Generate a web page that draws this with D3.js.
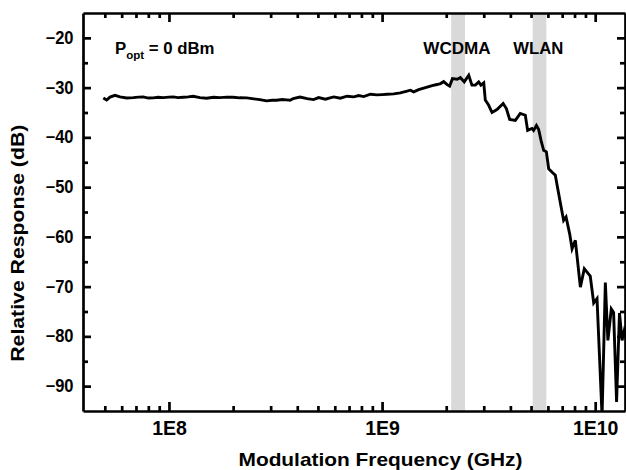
<!DOCTYPE html>
<html><head><meta charset="utf-8">
<script src="https://cdn.jsdelivr.net/npm/d3@7"></script>
<style>body{margin:0;background:#fff} svg{display:block}</style>
</head><body><svg id="c" width="626" height="470"></svg>
<script>
// ---- data ----
const freqHz = [
 4.92e7, 5.1e7, 5.29e7, 5.58e7, 5.89e7, 6.33e7, 6.8e7, 7.2e7, 7.57e7, 8.0e7,
 8.44e7, 8.9e7, 9.4e7, 1.0e8, 1.048e8, 1.1e8, 1.167e8, 1.23e8, 1.30e8, 1.397e8,
 1.50e8, 1.62e8, 1.735e8, 1.87e8, 2.0e8, 2.15e8, 2.32e8, 2.5e8, 2.67e8, 2.87e8,
 3.05e8, 3.2e8, 3.4e8, 3.56e8, 3.7e8, 3.83e8, 4.12e8, 4.45e8, 4.77e8, 5.04e8,
 5.42e8, 5.93e8, 6.37e8, 6.85e8, 7.36e8, 7.77e8, 8.20e8, 8.82e8, 9.48e8, 1.0e9,
 1.055e9, 1.133e9, 1.218e9, 1.31e9, 1.358e9, 1.407e9, 1.485e9, 1.597e9, 1.717e9, 1.81e9,
 1.88e9, 1.945e9, 2.02e9, 2.075e9, 2.14e9, 2.25e9, 2.33e9, 2.43e9, 2.55e9, 2.64e9,
 2.74e9, 2.84e9, 2.91e9, 3.0e9, 3.05e9, 3.16e9, 3.28e9, 3.46e9, 3.70e9, 3.83e9,
 3.97e9, 4.22e9, 4.45e9, 4.70e9, 4.82e9, 5.05e9, 5.14e9, 5.30e9, 5.43e9, 5.57e9,
 5.73e9, 5.90e9, 6.05e9, 6.28e9, 6.50e9, 6.67e9, 6.92e9, 7.11e9, 7.30e9, 7.59e9,
 7.79e9, 8.07e9, 8.52e9, 8.89e9, 9.48e9, 9.84e9, 1.02e10, 1.077e10, 1.116e10, 1.147e10,
 1.19e10, 1.22e10, 1.26e10, 1.30e10, 1.337e10, 1.37e10, 1.40e10
];
const responseDb = [
 -32.1, -32.5, -31.9, -31.55, -31.85, -32.07, -32.0, -31.9, -31.86, -32.1,
 -32.07, -31.95, -32.0, -31.9, -31.86, -32.0, -31.93, -31.85, -31.73, -32.0,
 -32.13, -31.95, -32.0, -31.9, -31.93, -32.05, -32.07, -32.25, -32.4, -32.67,
 -32.55, -32.54, -32.4, -32.47, -32.55, -32.2, -31.9, -32.2, -32.4, -32.0,
 -32.33, -31.86, -32.13, -31.73, -31.86, -31.6, -31.8, -31.33, -31.46, -31.4,
 -31.33, -31.26, -31.06, -30.72, -30.52, -30.86, -30.39, -29.99, -29.58, -29.38,
 -29.18, -28.8, -29.4, -29.7, -28.2, -28.3, -27.97, -28.85, -27.5, -29.5,
 -29.5, -28.85, -29.5, -29.05, -32.5, -33.5, -35.0, -34.4, -33.2, -34.2,
 -36.4, -36.6, -35.2, -35.55, -38.6, -38.2, -38.6, -37.6, -38.4, -40.6,
 -42.6, -42.9, -46.3, -47.0, -47.6, -50.3, -54.0, -56.7, -56.0, -59.4,
 -62.4, -60.7, -70.1, -66.4, -67.9, -73.3, -72.4, -96.0, -69.2, -80.8,
 -74.5, -75.2, -93.2, -75.3, -80.8, -78.8, -80.0
];
const bandNames = ["WCDMA", "WLAN"];
const bandLoHz = [2.11e9, 5.09e9];
const bandHiHz = [2.45e9, 5.9e9];
const xMajorTicks = [1e8, 1e9, 1e10];
const xTickLabels = ["1E8", "1E9", "1E10"];
const xMinorTicks = [5e7, 6e7, 7e7, 8e7, 9e7, 2e8, 3e8, 4e8, 5e8, 6e8, 7e8, 8e8, 9e8,
                     2e9, 3e9, 4e9, 5e9, 6e9, 7e9, 8e9, 9e9];
const yMajorTicks = [-90, -80, -70, -60, -50, -40, -30, -20];
const yMinorTicks = [-85, -75, -65, -55, -45, -35, -25];

// ---- layout ----
const L = 83, R = 625, T = 13, B = 411;
const FONT = "'Liberation Sans', Arial, Helvetica, sans-serif";
const svg = d3.select("#c");
const x = d3.scaleLog().domain([3.95e7, 1.38e10]).range([L, R]);
const y = d3.scaleLinear().domain([-95, -15]).range([B, T]);

// bands
svg.append("g").selectAll("rect").data(bandNames).join("rect")
  .attr("x", (d, i) => x(bandLoHz[i]))
  .attr("width", (d, i) => x(bandHiHz[i]) - x(bandLoHz[i]))
  .attr("y", T).attr("height", B - T)
  .attr("fill", "#d9d9d9");

// line
svg.append("clipPath").attr("id", "clip").append("rect")
  .attr("x", L).attr("y", T).attr("width", R - L).attr("height", B - T);
const pts = freqHz.map((f, i) => [f, responseDb[i]]);
svg.append("path").datum(pts)
  .attr("clip-path", "url(#clip)")
  .attr("fill", "none").attr("stroke", "#000").attr("stroke-width", 2.9)
  .attr("stroke-linejoin", "miter")
  .attr("d", d3.line().x(d => x(d[0])).y(d => y(d[1])));

// axes
function styleAxis(g) {
  g.selectAll("path, line").attr("stroke", "#000").attr("stroke-width", 2.7);
  g.selectAll("text").attr("font-family", FONT).attr("font-weight", "bold").attr("fill", "#000");
}
const gx = svg.append("g").attr("transform", `translate(0,${B})`)
  .call(d3.axisBottom(x).tickValues(xMajorTicks).tickFormat((d, i) => xTickLabels[i])
    .tickSize(-9).tickSizeOuter(0).tickPadding(10.5));
gx.selectAll("text").attr("font-size", 19.5);
styleAxis(gx);
const gxm = svg.append("g").attr("transform", `translate(0,${B})`)
  .call(d3.axisBottom(x).tickValues(xMinorTicks).tickFormat("").tickSize(-5).tickSizeOuter(0));
gxm.select(".domain").remove(); styleAxis(gxm);

const gt = svg.append("g").attr("transform", `translate(0,${T})`)
  .call(d3.axisTop(x).tickValues(xMajorTicks).tickFormat("").tickSize(-9).tickSizeOuter(0));
styleAxis(gt);
const gtm = svg.append("g").attr("transform", `translate(0,${T})`)
  .call(d3.axisTop(x).tickValues(xMinorTicks).tickFormat("").tickSize(-5).tickSizeOuter(0));
gtm.select(".domain").remove(); styleAxis(gtm);

const gy = svg.append("g").attr("transform", `translate(${L},0)`)
  .call(d3.axisLeft(y).tickValues(yMajorTicks).tickFormat(d3.format("d"))
    .tickSize(-8).tickSizeOuter(0).tickPadding(9.5));
gy.selectAll("text").attr("font-size", 17.5).attr("textLength", 28).attr("lengthAdjust", "spacingAndGlyphs");
styleAxis(gy);
const gym = svg.append("g").attr("transform", `translate(${L},0)`)
  .call(d3.axisLeft(y).tickValues(yMinorTicks).tickFormat("").tickSize(-5).tickSizeOuter(0));
gym.select(".domain").remove(); styleAxis(gym);

const gr = svg.append("g").attr("transform", `translate(${R},0)`)
  .call(d3.axisRight(y).tickValues(yMajorTicks).tickFormat("").tickSize(-8).tickSizeOuter(0));
styleAxis(gr);
const grm = svg.append("g").attr("transform", `translate(${R},0)`)
  .call(d3.axisRight(y).tickValues(yMinorTicks).tickFormat("").tickSize(-5).tickSizeOuter(0));
grm.select(".domain").remove(); styleAxis(grm);

// titles
svg.append("text").attr("x", 238.5).attr("y", 465.5)
  .attr("font-family", FONT).attr("font-weight", "bold").attr("font-size", 18.5)
  .attr("textLength", 284).attr("lengthAdjust", "spacingAndGlyphs")
  .text("Modulation Frequency (GHz)");
svg.append("text").attr("transform", "translate(23.5,243.2) rotate(-90)")
  .attr("text-anchor", "middle")
  .attr("font-family", FONT).attr("font-weight", "bold").attr("font-size", 19)
  .attr("textLength", 237).attr("lengthAdjust", "spacingAndGlyphs")
  .text("Relative Response (dB)");

// band labels
const bandLabelX = [457, 538.3];
const bandLabelW = [67.4, 50];
svg.append("g").selectAll("text").data(bandNames).join("text")
  .attr("x", (d, i) => bandLabelX[i]).attr("y", 54)
  .attr("text-anchor", "middle")
  .attr("font-family", FONT).attr("font-weight", "bold").attr("font-size", 16.5)
  .attr("textLength", (d, i) => bandLabelW[i]).attr("lengthAdjust", "spacingAndGlyphs")
  .text(d => d);

// P_opt label
const pt = svg.append("text").attr("x", 115).attr("y", 54)
  .attr("font-family", FONT).attr("font-weight", "bold").attr("font-size", 16.8);
pt.append("tspan").text("P");
pt.append("tspan").attr("font-size", 11.5).attr("dy", 5).text("opt");
pt.append("tspan").attr("dy", -5).text(" = 0 dBm");
</script>
</body></html>
